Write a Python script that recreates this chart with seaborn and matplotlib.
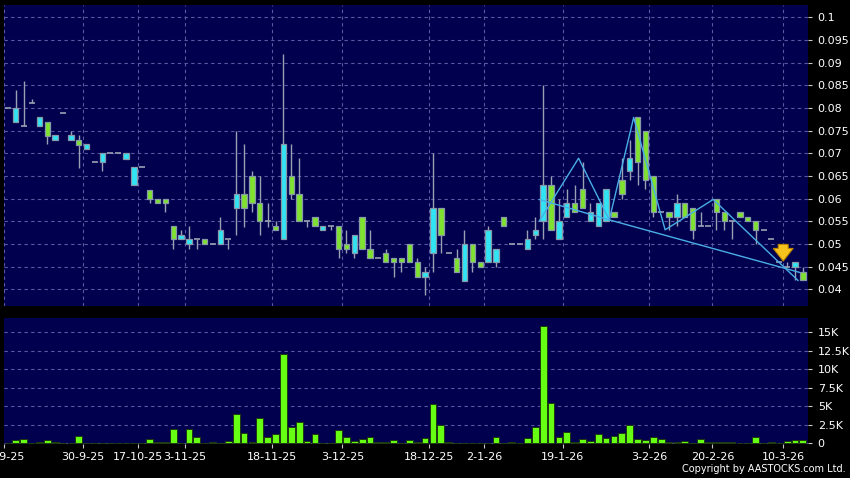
import numpy as np
import pandas as pd
import matplotlib
matplotlib.use("Agg")
import matplotlib.pyplot as plt
import seaborn as sns

# candle data, one row per trading day (index = slot on the x axis)
opens = [0.08, 0.0768, 0.076, 0.081, 0.0759, 0.0768, 0.0729, 0.0788, 0.0729, 0.0729,
         0.0709, 0.068, 0.068, 0.070, 0.070, 0.0688, 0.0629, 0.0669, 0.0618, 0.0598,
         0.0598, 0.0539, 0.051, 0.0499, 0.051, 0.051, 0.0499, 0.0499, 0.051, 0.0579,
         0.061, 0.0649, 0.059, 0.055, 0.0539, 0.051, 0.0649, 0.061, 0.055, 0.0559,
         0.053, 0.0539, 0.0539, 0.0499, 0.048, 0.0559, 0.0488, 0.0468, 0.048, 0.0468,
         0.0468, 0.0499, 0.046, 0.0428, 0.048, 0.0579, 0.048, 0.0468, 0.0419, 0.0499,
         0.046, 0.046, 0.046, 0.0559, 0.0499, 0.0499, 0.0488, 0.0519, 0.055, 0.0629,
         0.051, 0.0559, 0.059, 0.062, 0.055, 0.0539, 0.055, 0.057, 0.064, 0.066,
         0.078, 0.0749, 0.0649, 0.057, 0.057, 0.0559, 0.059, 0.0579, 0.0539, 0.0539,
         0.0598, 0.057, 0.055, 0.057, 0.0559, 0.055, 0.053, 0.051, 0.046, 0.045,
         0.045, 0.0439]
closes = [0.08, 0.08, 0.076, 0.081, 0.078, 0.0739, 0.074, 0.0788, 0.074, 0.0719,
          0.072, 0.068, 0.070, 0.070, 0.070, 0.070, 0.0669, 0.0669, 0.0598, 0.059,
          0.059, 0.051, 0.0519, 0.051, 0.051, 0.0499, 0.0499, 0.053, 0.051, 0.061,
          0.0579, 0.059, 0.055, 0.055, 0.053, 0.072, 0.061, 0.055, 0.055, 0.0539,
          0.0539, 0.0539, 0.0488, 0.0488, 0.0519, 0.0488, 0.0468, 0.0468, 0.046, 0.046,
          0.046, 0.046, 0.0428, 0.0439, 0.0579, 0.0519, 0.048, 0.0439, 0.0499, 0.046,
          0.0449, 0.053, 0.0488, 0.0539, 0.0499, 0.0499, 0.051, 0.053, 0.0629, 0.053,
          0.055, 0.059, 0.057, 0.0579, 0.057, 0.059, 0.062, 0.0559, 0.061, 0.069,
          0.068, 0.064, 0.057, 0.057, 0.0559, 0.059, 0.0559, 0.053, 0.0539, 0.0539,
          0.057, 0.055, 0.055, 0.0559, 0.055, 0.053, 0.053, 0.051, 0.046, 0.045,
          0.046, 0.042]
highs = [0.08, 0.084, 0.086, 0.082, 0.078, 0.0768, 0.074, 0.0788, 0.0749, 0.074,
         0.072, 0.068, 0.070, 0.070, 0.070, 0.070, 0.0669, 0.0669, 0.0618, 0.0598,
         0.0598, 0.0539, 0.053, 0.0539, 0.051, 0.051, 0.0499, 0.0559, 0.051, 0.0749,
         0.072, 0.066, 0.065, 0.059, 0.055, 0.0919, 0.072, 0.069, 0.055, 0.0559,
         0.0539, 0.0539, 0.0539, 0.053, 0.0519, 0.0559, 0.053, 0.0468, 0.0488, 0.0468,
         0.0468, 0.0499, 0.0468, 0.0449, 0.070, 0.0579, 0.048, 0.0488, 0.053, 0.0499,
         0.046, 0.0539, 0.0488, 0.0559, 0.0499, 0.0499, 0.053, 0.0559, 0.085, 0.0649,
         0.0598, 0.062, 0.063, 0.068, 0.059, 0.059, 0.062, 0.057, 0.069, 0.073,
         0.078, 0.0749, 0.0649, 0.057, 0.057, 0.061, 0.059, 0.0579, 0.057, 0.0539,
         0.0598, 0.057, 0.055, 0.057, 0.0559, 0.055, 0.053, 0.051, 0.046, 0.046,
         0.046, 0.045]
lows = [0.08, 0.0768, 0.076, 0.081, 0.0759, 0.072, 0.0729, 0.0788, 0.0729, 0.0668,
        0.0709, 0.068, 0.066, 0.070, 0.070, 0.0688, 0.0629, 0.0669, 0.059, 0.059,
        0.057, 0.0488, 0.051, 0.0488, 0.0488, 0.0499, 0.0499, 0.0499, 0.0488, 0.0519,
        0.0538, 0.057, 0.052, 0.0538, 0.053, 0.051, 0.0598, 0.055, 0.0538, 0.0539,
        0.053, 0.053, 0.0468, 0.048, 0.0468, 0.0488, 0.0468, 0.0468, 0.046, 0.0428,
        0.0439, 0.046, 0.0428, 0.0388, 0.0439, 0.048, 0.048, 0.0439, 0.0419, 0.0439,
        0.0449, 0.046, 0.0449, 0.0539, 0.0499, 0.0499, 0.0488, 0.051, 0.051, 0.053,
        0.051, 0.0559, 0.057, 0.0579, 0.055, 0.0539, 0.055, 0.0559, 0.0598, 0.064,
        0.063, 0.062, 0.0559, 0.057, 0.053, 0.0539, 0.0559, 0.051, 0.0539, 0.0539,
        0.053, 0.053, 0.051, 0.0559, 0.055, 0.050, 0.053, 0.051, 0.046, 0.045,
        0.042, 0.042]
volumes = [0, 405, 540, 0, 135, 450, 135, 0, 0, 990,
           90, 0, 0, 0, 0, 0, 90, 0, 540, 135,
           225, 1980, 0, 1890, 900, 90, 225, 0, 270, 3960,
           1350, 135, 3470, 810, 1260, 12070, 2160, 2880, 360, 1300,
           0, 90, 1850, 900, 270, 540, 900, 180, 180, 405,
           0, 450, 135, 675, 5315, 2480, 135, 0, 90, 90,
           0, 90, 855, 0, 135, 0, 720, 2250, 15900, 5500,
           810, 1490, 135, 630, 360, 1215, 765, 1035, 1400, 2480,
           540, 405, 855, 585, 135, 135, 270, 0, 630, 135,
           225, 135, 135, 0, 0, 855, 0, 225, 90, 270,
           405, 450]

# date labels and where they sit (between slots)
date_labels = ["12-9-25", "30-9-25", "17-10-25", "3-11-25", "18-11-25", "3-12-25",
               "18-12-25", "2-1-26", "19-1-26", "3-2-26", "20-2-26", "10-3-26"]
date_pos = [-0.5, 9.5, 16.5, 22.5, 33.5, 42.5, 53.5, 60.5, 70.5, 81.5, 89.5, 98.5]

price_ticks = [0.04, 0.045, 0.05, 0.055, 0.06, 0.065, 0.07, 0.075, 0.08, 0.085, 0.09, 0.095, 0.1]
vol_ticks = [0, 2500, 5000, 7500, 10000, 12500, 15000]
vol_tick_labels = ["0", "2.5K", "5K", "7.5K", "10K", "12.5K", "15K"]

# drawn pattern lines
zigzag_x = [67.5, 72.5, 76.4, 79.5, 83.5, 89.6, 100.4]
zigzag_y = [0.055, 0.0689, 0.0553, 0.0779, 0.0531, 0.0598, 0.0419]
support_x = [67.5, 76.4, 100.6]
support_y = [0.0598, 0.0553, 0.0437]
arrow_x = 98.5
arrow_tip, arrow_top = 0.0456, 0.0505

df = pd.DataFrame({"o": opens, "h": highs, "l": lows, "c": closes, "v": volumes})
df["i"] = np.arange(len(df))

sns.set_theme(style="dark")
plt.rcParams["font.family"] = ["DejaVu Sans"]

BG = "#00004e"
GRID = "#5a5aa0"
UP = "#30e4f4"
DOWN = "#7ee22e"
WICK = "#9aa0b4"

fig = plt.figure(figsize=(8.5, 4.78), dpi=100, facecolor="black")
ax1 = fig.add_axes([4 / 850, 1 - 306 / 478, 804 / 850, 301 / 478])
ax2 = fig.add_axes([4 / 850, 1 - 443.5 / 478, 804 / 850, 125.5 / 478])

for ax in (ax1, ax2):
    ax.set_facecolor(BG)
    for s in ax.spines.values():
        s.set_visible(False)
    ax.yaxis.tick_right()
    ax.set_xticks(date_pos)
    ax.grid(True, color=GRID, linestyle=(0, (3, 3)), linewidth=0.8)
    ax.set_axisbelow(True)
    ax.tick_params(axis="y", right=True, length=3, width=0.8, color="#c8c8c8",
                   labelcolor="white", labelsize=8, pad=4)
    ax.set_xlim(-0.5, 101.65)

# candles
w = 0.68
ax1.vlines(df["i"], df["l"], df["h"], color=WICK, linewidth=1, zorder=2)
flat = df[df["o"] == df["c"]]
ax1.hlines(flat["c"], flat["i"] - 0.38, flat["i"] + 0.38, color=WICK, linewidth=1.2, zorder=3)
body = df[df["o"] != df["c"]]
bottom = body[["o", "c"]].min(axis=1)
height = (body["c"] - body["o"]).abs()
cols = np.where(body["c"] > body["o"], UP, DOWN)
ax1.bar(body["i"], height, bottom=bottom, width=w, color=cols,
        edgecolor="#8898a8", linewidth=0.9, zorder=3)

sns.lineplot(x=zigzag_x, y=zigzag_y, ax=ax1, color="#4aaee6", linewidth=1, sort=False, zorder=4)
sns.lineplot(x=support_x, y=support_y, ax=ax1, color="#4aaee6", linewidth=1, sort=False, zorder=4)
ax1.annotate("", xy=(arrow_x, arrow_tip), xytext=(arrow_x, arrow_top),
             arrowprops=dict(arrowstyle="simple,head_length=0.7,head_width=1.1,tail_width=0.55",
                             fc="#f6c21c", ec="#b98300", lw=0.8, mutation_scale=13), zorder=5)

ax1.set_ylim(0.0363, 0.1027)
ax1.set_yticks(price_ticks)
ax1.set_yticklabels([f"{t:g}" for t in price_ticks])
ax1.tick_params(axis="x", bottom=False, labelbottom=False)
ax1.set_xlabel("")
ax1.set_ylabel("")

# volume
sns.barplot(data=df, x="i", y="v", ax=ax2, color="#66ff14", saturation=1,
            width=0.86, edgecolor="#1f3a10", linewidth=0.7, zorder=3)
ax2.set_xlim(-0.5, 101.65)
ax2.set_xticks(date_pos)
ax2.set_xticklabels(date_labels)
ax2.set_ylim(-30, 16930)
ax2.set_yticks(vol_ticks)
ax2.set_yticklabels(vol_tick_labels)
ax2.tick_params(axis="x", bottom=True, length=3, width=0.8, color="#c8c8c8",
                labelcolor="white", labelsize=8, pad=3)
ax2.set_xlabel("")
ax2.set_ylabel("")

fig.text(0.995, 0.008, "Copyright by AASTOCKS.com Ltd.", ha="right", va="bottom",
         color="white", fontsize=7)

fig.savefig("out.png", dpi=100, facecolor="black")
